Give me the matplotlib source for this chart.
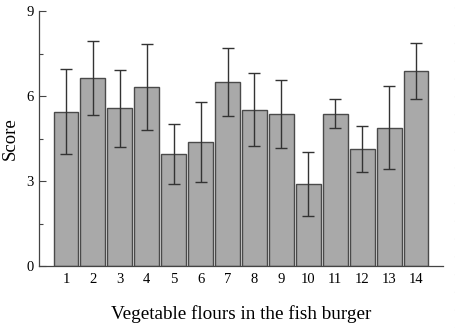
import matplotlib
matplotlib.use("Agg")
import matplotlib.pyplot as plt
import numpy as np

# Données
echantillons = [str(i) for i in range(1, 15)]
scores = [5.45, 6.64, 5.56, 6.32, 3.95, 4.39, 6.5, 5.52, 5.38, 2.88, 5.38, 4.13, 4.88, 6.88]
erreurs = [1.5, 1.3, 1.35, 1.53, 1.07, 1.41, 1.2, 1.3, 1.2, 1.13, 0.52, 0.82, 1.46, 1.0]

plt.rcParams['font.family'] = ['Liberation Serif', 'DejaVu Serif']

fig = plt.figure(figsize=(4.56, 3.28), dpi=100)
ax = fig.add_axes([39/456, 62/328, 404/456, 255/328])

x = np.arange(1, len(scores)+1)
ax.bar(x, scores, width=0.92, color='#a9a9a9', edgecolor='#4a4a4a', linewidth=1.0,
       yerr=erreurs, capsize=4.5,
       error_kw=dict(ecolor='#333333', elinewidth=1.0, capthick=1.0))

ax.set_xlim(0, 15)
ax.set_ylim(0, 9)
ax.set_xticks(x)
ax.set_xticklabels(echantillons)
ax.set_yticks([0, 3, 6, 9])
ax.set_yticks([1.5, 4.5, 7.5], minor=True)
ax.tick_params(axis='y', which='major', direction='in', length=5, width=0.8, labelsize=10.5, pad=4, color='#444444')
ax.tick_params(axis='y', which='minor', direction='in', length=3, width=0.8, color='#444444')
ax.tick_params(axis='x', length=0, labelsize=10.5, pad=5)
for s in ['top', 'right']:
    ax.spines[s].set_visible(False)
for s in ['left', 'bottom']:
    ax.spines[s].set_color('#444444')
    ax.spines[s].set_linewidth(0.9)

ax.set_ylabel("Score", fontsize=13.5, labelpad=5)
ax.set_xlabel("Vegetable flours in the fish burger", fontsize=13.8, labelpad=14)

# bord pointillé à droite
fig.add_artist(plt.Line2D([455/456, 455/456], [0, 1], transform=fig.transFigure,
                          color='#999999', linewidth=0.8, linestyle=(0, (1, 15))))

fig.savefig("out.png", dpi=100)
